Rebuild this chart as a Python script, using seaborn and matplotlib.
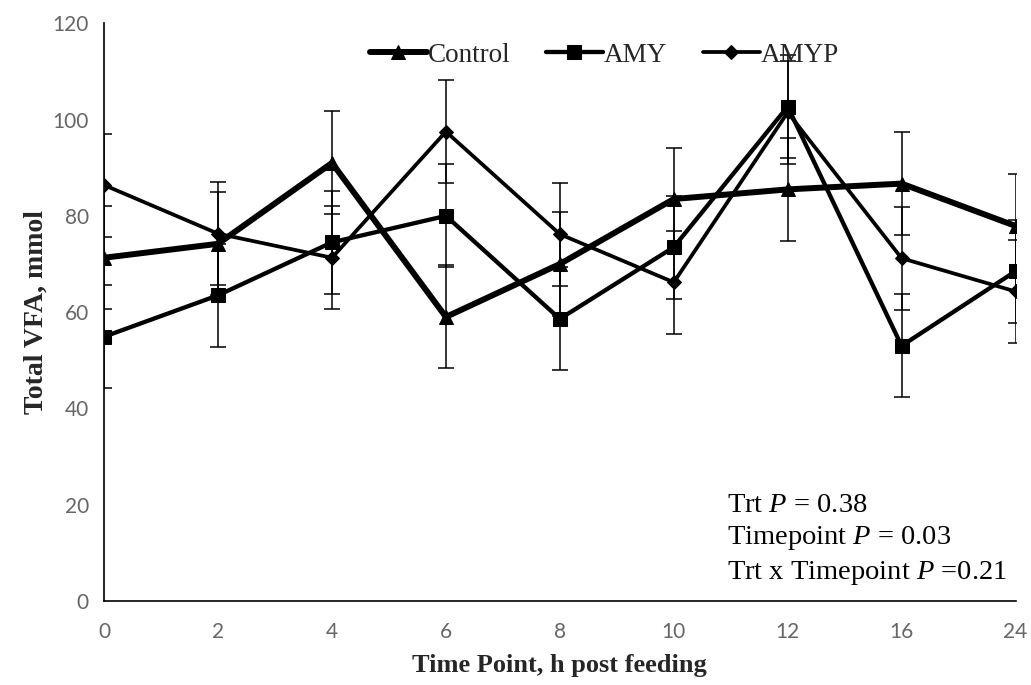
import numpy as np
import pandas as pd
import matplotlib
matplotlib.use("Agg")
import matplotlib.pyplot as plt
import seaborn as sns

# ── Data ────────────────────────────────────────────────────────────────────
time_labels = ["0", "2", "4", "6", "8", "10", "12", "16", "24"]
control = [71.3, 74.2, 91.0, 59.0, 70.0, 83.5, 85.5, 86.7, 77.9]
amy     = [54.9, 63.5, 74.5, 80.0, 58.6, 73.5, 102.7, 53.0, 68.5]
amyp    = [86.4, 76.3, 71.3, 97.5, 76.2, 66.2, 101.5, 71.2, 64.3]
control_se = [10.7, 10.7, 10.7, 10.7, 10.7, 10.7, 10.7, 10.7, 10.7]
amy_se     = [10.7, 10.7, 10.7, 10.7, 10.7, 10.7, 10.7, 10.7, 10.7]
amyp_se    = [10.7, 10.7, 10.7, 10.7, 10.7, 10.7, 10.7, 10.7, 10.7]
treatments = ["Control", "AMY", "AMYP"]

pos = np.arange(len(time_labels))
df = pd.concat([
    pd.DataFrame({"pos": pos, "vfa": v, "se": s, "trt": t})
    for t, v, s in zip(treatments, [control, amy, amyp],
                       [control_se, amy_se, amyp_se])
], ignore_index=True)

# ── Style ───────────────────────────────────────────────────────────────────
sns.set_style("white")
plt.rcParams["font.family"] = ["Liberation Serif", "DejaVu Serif"]
plt.rcParams["mathtext.fontset"] = "custom"
plt.rcParams["mathtext.rm"] = "Liberation Serif"
plt.rcParams["mathtext.it"] = "Liberation Serif:italic"

styles = {
    "Control": dict(marker="^", lw=4.3, ms=10.5),
    "AMY":     dict(marker="s", lw=3.1, ms=10),
    "AMYP":    dict(marker="D", lw=2.7, ms=7.5),
}

fig, ax = plt.subplots(figsize=(10.31, 6.85), dpi=100)
fig.subplots_adjust(left=0.101, right=0.985, bottom=0.1226, top=0.966)

for t in treatments:
    sub = df[df["trt"] == t]
    st = styles[t]
    ax.errorbar(sub["pos"], sub["vfa"], yerr=sub["se"], fmt="none",
                ecolor="black", elinewidth=1.1, capsize=5.5, capthick=1.1,
                zorder=2)
    sns.lineplot(data=sub, x="pos", y="vfa", ax=ax, color="black",
                 linewidth=st["lw"], marker=st["marker"],
                 markersize=st["ms"], markeredgecolor="black",
                 markerfacecolor="black", label=t, zorder=3)

ax.set_xlim(0, len(time_labels) - 1)
ax.set_ylim(0, 120)
ax.set_xticks(pos)
ax.set_xticklabels(time_labels)
ax.set_yticks(np.arange(0, 121, 20))

for side in ["top", "right"]:
    ax.spines[side].set_visible(False)
for side in ["left", "bottom"]:
    ax.spines[side].set_color("black")
    ax.spines[side].set_linewidth(1.2)

ax.tick_params(axis="both", direction="out", length=5, width=1.2,
               color="black", labelcolor="#666666", labelsize=15)
ax.tick_params(axis="x", pad=10)
ax.tick_params(axis="y", pad=6)
for lab in ax.get_xticklabels() + ax.get_yticklabels():
    lab.set_fontfamily("Lato")

ax.set_xlabel("Time Point, h post feeding", fontsize=19,
              fontweight="bold", labelpad=9)
ax.set_ylabel("Total VFA, mmol", fontsize=20, fontweight="bold",
              labelpad=3)

ax.legend(loc="center", bbox_to_anchor=(0.549, 0.945), ncol=3,
          frameon=False, fontsize=19.5, handlelength=2.1,
          handletextpad=0.05, columnspacing=1.3)

ax.text(0.683, 0.106,
        "Trt $P$ = 0.38\nTimepoint $P$ = 0.03\nTrt x Timepoint $P$ =0.21",
        transform=ax.transAxes, ha="left", va="center",
        fontsize=20.5, linespacing=1.33, color="black")

plt.savefig("out.png", dpi=100, facecolor="white")
plt.close()
